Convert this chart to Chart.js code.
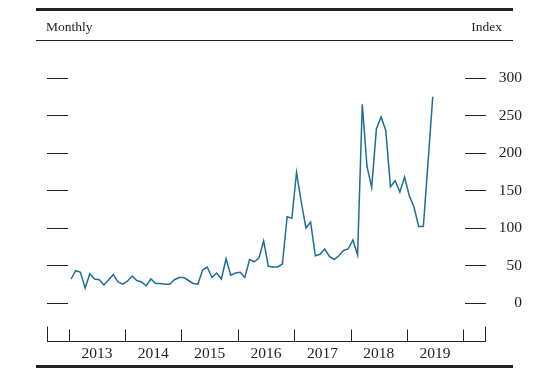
<!DOCTYPE html>
<html>
<head>
<meta charset="utf-8">
<script src="https://cdn.jsdelivr.net/npm/chart.js@4"></script>
<style>
  html, body { margin: 0; padding: 0; background: #fff; }
  #wrap { width: 543px; height: 368px; position: relative; }
</style>
</head>
<body>
<div id="wrap"><canvas id="grafico"></canvas></div>
<script>
// ── Dados (indice mensal, meio de cada mes) ──
const anos = [2013, 2014, 2015, 2016, 2017, 2018, 2019];
const indice2013 = [32, 43, 41, 20, 39, 32, 31, 24, 31, 38, 28, 25];
const indice2014 = [29, 36, 30, 28, 23, 32, 26, 26, 25, 25, 31, 34];
const indice2015 = [34, 30, 26, 25, 44, 48, 34, 40, 32, 59, 37, 40];
const indice2016 = [41, 34, 58, 55, 60, 83, 49, 48, 48, 52, 115, 113];
const indice2017 = [174, 135, 100, 108, 63, 65, 72, 62, 58, 63, 70, 72];
const indice2018 = [84, 64, 265, 182, 154, 232, 248, 230, 155, 163, 148, 168];
const indice2019 = [143, 128, 102, 102, 188, 275];
const ticksY = [0, 50, 100, 150, 200, 250, 300];
const marcasAno = [2013, 2014, 2015, 2016, 2017, 2018, 2019, 2020];

const serie = [indice2013, indice2014, indice2015, indice2016, indice2017, indice2018, indice2019];
const pontos = [];
serie.forEach((valores, i) => {
  valores.forEach((v, m) => pontos.push({ x: anos[i] + (m + 0.5) / 12, y: v }));
});

const FONTE = "'Liberation Serif', 'Times New Roman', serif";
const TINTA = '#222';

// Moldura: linhas do cabecalho, tracos dos ticks e eixo inferior
const moldura = {
  id: 'moldura',
  afterDraw(chart) {
    const { ctx, scales: { x, y } } = chart;
    ctx.save();
    ctx.fillStyle = TINTA;
    ctx.fillRect(36, 8, 477, 3);
    ctx.fillRect(36, 40, 477, 1);
    ctx.fillRect(36, 365, 477, 3);

    ctx.font = '13.5px ' + FONTE;
    ctx.textBaseline = 'alphabetic';
    ctx.textAlign = 'left';
    ctx.fillText('Monthly', 46, 31);
    ctx.textAlign = 'right';
    ctx.fillText('Index', 502, 31);

    ctx.strokeStyle = TINTA;
    ctx.lineWidth = 1;
    ctx.beginPath();
    ticksY.forEach(v => {
      const py = Math.round(y.getPixelForValue(v)) + 0.5;
      ctx.moveTo(47, py); ctx.lineTo(68, py);
      ctx.moveTo(465, py); ctx.lineTo(486, py);
    });
    const base = Math.round(chart.chartArea.bottom) + 0.5;
    ctx.moveTo(47, base); ctx.lineTo(485.5, base);
    marcasAno.forEach(a => {
      const px = Math.round(x.getPixelForValue(a)) + 0.5;
      ctx.moveTo(px, base); ctx.lineTo(px, base - 12);
    });
    [x.min, x.max].forEach(a => {
      const px = Math.min(Math.round(x.getPixelForValue(a)) + 0.5, 485.5);
      ctx.moveTo(px, base); ctx.lineTo(px, base - 15);
    });
    ctx.stroke();
    ctx.restore();
  }
};

new Chart(document.getElementById('grafico'), {
  type: 'line',
  data: {
    datasets: [{
      data: pontos,
      borderColor: '#1f6e98',
      borderWidth: 1.5,
      pointRadius: 0,
      tension: 0,
      fill: false
    }]
  },
  options: {
    responsive: true,
    maintainAspectRatio: false,
    animation: false,
    layout: { padding: { left: 47, right: 21, top: 78, bottom: 0 } },
    plugins: { legend: { display: false }, tooltip: { enabled: false } },
    scales: {
      x: {
        type: 'linear',
        min: 2012.615,
        max: 2020.403,
        afterBuildTicks: s => { s.ticks = marcasAno.map(v => ({ value: v })); },
        afterFit: s => { s.height = 27; },
        grid: { display: false },
        border: { display: false },
        ticks: {
          color: TINTA,
          font: { family: FONTE, size: 15.5 },
          padding: -4,
          maxRotation: 0,
          autoSkip: false,
          labelOffset: 28.2,
          callback: v => (v < 2020 ? String(v) : '')
        }
      },
      y: {
        position: 'right',
        min: -50.67,
        max: 300,
        afterBuildTicks: s => { s.ticks = ticksY.map(v => ({ value: v })); },
        afterFit: s => { s.width = 36; },
        grid: { display: false },
        border: { display: false },
        ticks: {
          color: TINTA,
          font: { family: FONTE, size: 15.5 },
          padding: 12,
          crossAlign: 'far'
        }
      }
    }
  },
  plugins: [moldura]
});
</script>
</body>
</html>
